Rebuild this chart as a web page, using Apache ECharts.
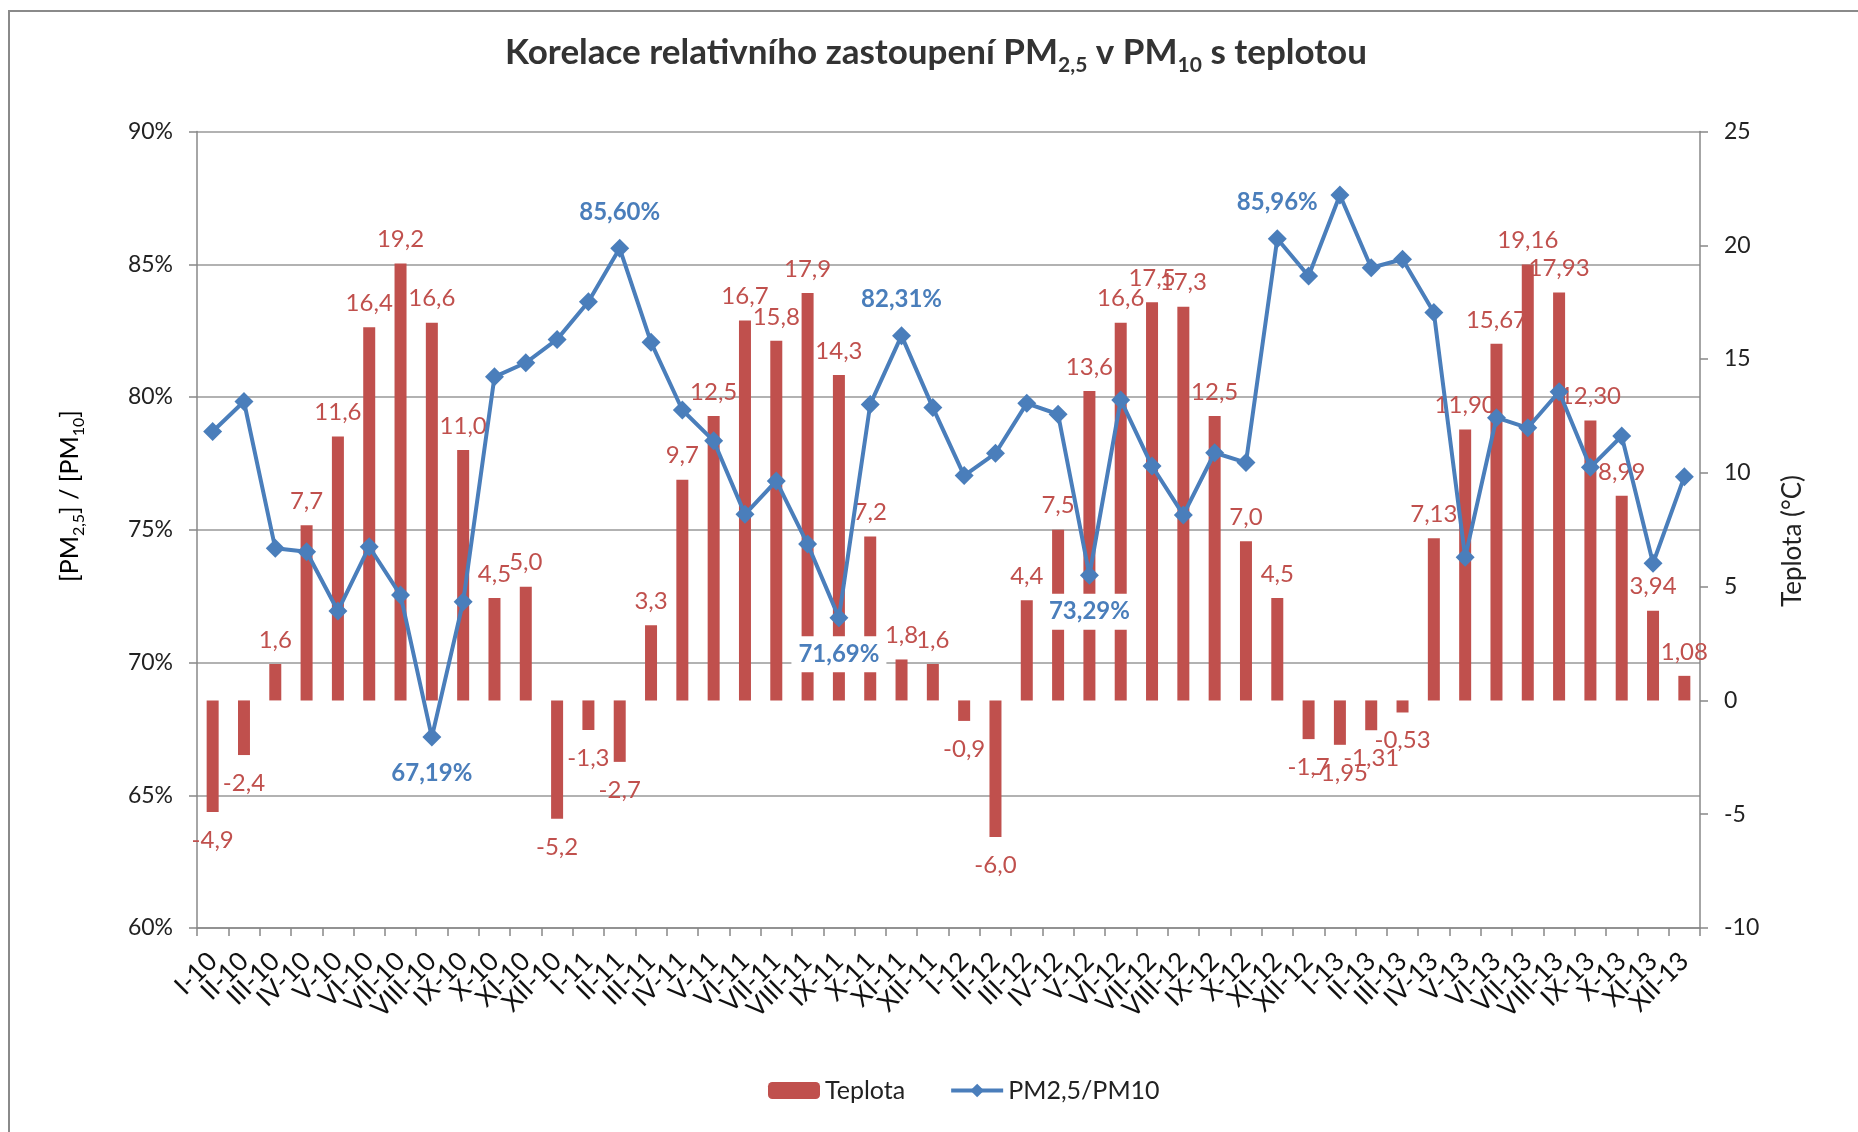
<!DOCTYPE html>
<html>
<head>
<meta charset="utf-8">
<script src="https://cdn.jsdelivr.net/npm/echarts@6/dist/echarts.min.js"></script>
<style>html,body{margin:0;padding:0;background:#fff;}#c{width:1858px;height:1132px;}</style>
</head>
<body>
<div id="c"></div>
<script>
const months = ['I-10','II-10','III-10','IV-10','V-10','VI-10','VII-10','VIII-10','IX-10','X-10','XI-10','XII-10',
  'I-11','II-11','III-11','IV-11','V-11','VI-11','VII-11','VIII-11','IX-11','X-11','XI-11','XII-11',
  'I-12','II-12','III-12','IV-12','V-12','VI-12','VII-12','VIII-12','IX-12','X-12','XI-12','XII-12',
  'I-13','II-13','III-13','IV-13','V-13','VI-13','VII-13','VIII-13','IX-13','X-13','XI-13','XII-13'];

const temperature = [-4.9,-2.4,1.6,7.7,11.6,16.4,19.2,16.6,11.0,4.5,5.0,-5.2,
  -1.3,-2.7,3.3,9.7,12.5,16.7,15.8,17.9,14.3,7.2,1.8,1.6,
  -0.9,-6.0,4.4,7.5,13.6,16.6,17.5,17.3,12.5,7.0,4.5,-1.7,
  -1.95,-1.31,-0.53,7.13,11.90,15.67,19.16,17.93,12.30,8.99,3.94,1.08];

const ratio = [78.70,79.83,74.30,74.17,71.94,74.36,72.54,67.19,72.29,80.76,81.29,82.17,
  83.59,85.60,82.06,79.51,78.35,75.58,76.84,74.46,71.69,79.72,82.31,79.60,
  77.04,77.88,79.76,79.35,73.29,79.89,77.40,75.56,77.90,77.53,85.96,84.56,
  87.61,84.87,85.19,83.18,73.96,79.22,78.84,80.20,77.35,78.53,73.74,77.00];

const ratioLabelsAbove = [13, 22, 34];
const ratioLabelsBelow = [7, 20, 28];

const leftTicks = [60, 65, 70, 75, 80, 85, 90];
const rightTicks = [-10, -5, 0, 5, 10, 15, 20, 25];

const FONT = 'Lato';
const RED = '#C0504D';
const BLUE = '#4A7EBB';

const tempData = temperature.map(v => (v < 0 ? { value: v, label: { position: 'bottom', distance: 16 } } : v));

const ratioData = ratio.map((v, i) => {
  if (ratioLabelsAbove.includes(i)) return { value: v, label: { show: true, position: 'top' } };
  if (ratioLabelsBelow.includes(i)) return { value: v, label: { show: true, position: 'bottom' } };
  return v;
});

const fmtComma = (v, d) => v.toFixed(d).replace('.', ',');

const chart = echarts.init(document.getElementById('c'), null, { renderer: 'canvas' });
chart.setOption({
  backgroundColor: '#fff',
  animation: false,
  title: {
    text: '{n|Korelace relativního zastoupení PM}{s|2,5}{n| v PM}{s|10}{n| s teplotou}',
    left: 936, top: 30, padding: 0, textAlign: 'center',
    textStyle: {
      rich: {
        n: { fontFamily: FONT, fontSize: 35, fontWeight: 'bold', color: '#333', lineHeight: 46 },
        s: { fontFamily: FONT, fontSize: 21, fontWeight: 'bold', color: '#333', lineHeight: 21, verticalAlign: 'bottom' }
      }
    }
  },
  legend: {
    left: 763, top: 1073,
    itemWidth: 52, itemHeight: 17, itemGap: 44,
    textStyle: { fontFamily: FONT, fontSize: 25, color: '#222' },
    lineStyle: { width: 4 },
    data: ['Teplota', 'PM2,5/PM10']
  },
  grid: { left: 197, right: 158, top: 131.5, bottom: 204, outerBoundsMode: 'none' },
  xAxis: {
    type: 'category', data: months, boundaryGap: true,
    axisLine: { onZero: false, lineStyle: { color: '#888', width: 1.5 } },
    axisTick: { show: true, length: 8, lineStyle: { color: '#888', width: 1.5 } },
    axisLabel: { interval: 0, rotate: 45, margin: 29, fontFamily: FONT, fontSize: 26, color: '#111' },
    splitLine: { show: false }
  },
  yAxis: [
    {
      type: 'value', min: 60, max: 90, interval: 5, position: 'left',
      axisLine: { show: true, lineStyle: { color: '#888', width: 1.5 } },
      axisTick: { show: true, length: 8, lineStyle: { color: '#888', width: 1.5 } },
      axisLabel: { margin: 24, fontFamily: FONT, fontSize: 23, color: '#222', formatter: '{value}%' },
      splitLine: { show: true, lineStyle: { color: '#999', width: 1.5 } }
    },
    {
      type: 'value', min: -10, max: 25, interval: 5, position: 'right',
      axisLine: { show: true, lineStyle: { color: '#888', width: 1.5 } },
      axisTick: { show: true, length: 8, lineStyle: { color: '#888', width: 1.5 } },
      axisLabel: { margin: 24, fontFamily: FONT, fontSize: 23, color: '#222' },
      splitLine: { show: false }
    }
  ],
  series: [
    {
      name: 'Teplota', type: 'bar', yAxisIndex: 1, data: tempData,
      barWidth: 12,
      itemStyle: { color: RED },
      label: {
        show: true, distance: 12,
        position: 'top',
        fontFamily: FONT, fontSize: 24, color: RED,
        formatter: p => fmtComma(p.value, p.dataIndex >= 36 ? 2 : 1)
      }
    },
    {
      name: 'PM2,5/PM10', type: 'line', yAxisIndex: 0, data: ratioData,
      symbol: 'diamond', symbolSize: 19,
      lineStyle: { color: BLUE, width: 4 },
      itemStyle: { color: BLUE },
      label: {
        show: false, distance: 9,
        fontFamily: FONT, fontSize: 24, fontWeight: 'bold', color: BLUE,
        backgroundColor: '#fff', padding: [6, 7],
        formatter: p => fmtComma(p.value, 2) + '%'
      },
      z: 3
    }
  ],
  graphic: [
    { type: 'rect', shape: { x: 9, y: 11, width: 2000, height: 2000 }, style: { fill: 'none', stroke: '#8a8a8a', lineWidth: 2 }, silent: true, z: -1 },
    {
      type: 'text', x: 70, y: 496, rotation: Math.PI / 2,
      style: {
        text: '{n|[PM}{s|2,5}{n|] / [PM}{s|10}{n|]}', align: 'center', verticalAlign: 'middle',
        rich: {
          n: { fontFamily: FONT, fontSize: 25, color: '#222', lineHeight: 34 },
          s: { fontFamily: FONT, fontSize: 16, color: '#222', lineHeight: 16, verticalAlign: 'bottom' }
        }
      }
    },
    {
      type: 'text', x: 1793, y: 541, rotation: Math.PI / 2,
      style: { text: 'Teplota (°C)', align: 'center', verticalAlign: 'middle', fontFamily: FONT, fontSize: 26, fill: '#222' }
    }
  ]
});
</script>
</body>
</html>
